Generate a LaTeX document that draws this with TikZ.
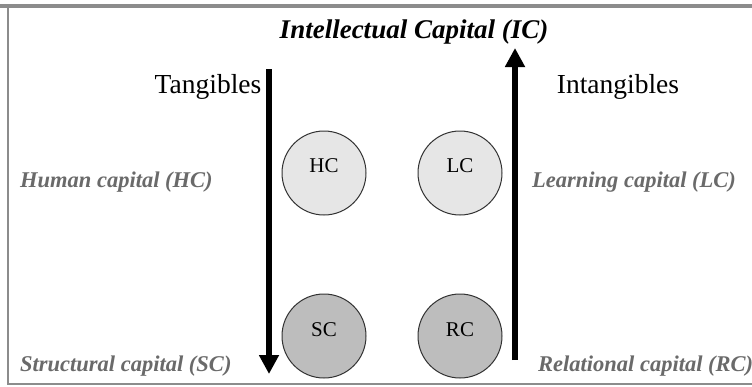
\documentclass[tikz,border=0pt]{standalone}
\usepackage{fontspec}
\setmainfont{Liberation Serif}
\usetikzlibrary{arrows.meta}
\definecolor{frame}{HTML}{8C8C8C}
\definecolor{lightfill}{HTML}{E6E6E6}
\definecolor{darkfill}{HTML}{BDBDBD}
\definecolor{sidegray}{HTML}{6A6A6A}
\begin{document}
\begin{tikzpicture}[x=1pt,y=-1pt,
  capcircle/.style={circle,draw=black!80,line width=1pt,minimum size=84pt,inner sep=0pt},
  light/.style={capcircle,fill=lightfill},
  dark/.style={capcircle,fill=darkfill},
  sidelabel/.style={font=\fontsize{22.5}{26}\selectfont\bfseries\itshape,text=sidegray,inner sep=0pt,anchor=base west},
  header/.style={font=\fontsize{27.5}{32}\selectfont,inner sep=0pt,anchor=base},
  circlabel/.style={font=\fontsize{21}{24}\selectfont,inner sep=0pt,anchor=base},
  bigarrow/.style={line width=5.5pt,-{Triangle[width=19pt,length=19pt]}}]
\useasboundingbox (0,0) rectangle (752,386);
\fill[white] (0,0) rectangle (752,386);
\draw[frame,line width=4pt] (0,6) -- (752,6);
\draw[frame,line width=1.5pt] (8,6) -- (8,384) -- (752,384);
\node[font=\fontsize{27}{30}\selectfont\bfseries\itshape,inner sep=0pt,anchor=base] (title) at (414,38) {Intellectual Capital (IC)};
\node[header] (tang) at (208,93) {Tangibles};
\node[header] (intang) at (618,93) {Intangibles};
\coordinate (dtop) at (269,69);
\coordinate (dbot) at (269,374);
\coordinate (ubot) at (515,360);
\coordinate (utop) at (515,48);
\draw[bigarrow] (dtop) -- (dbot);
\draw[bigarrow] (ubot) -- (utop);
\node[light] (hc) at (324,173) {};
\node[light] (lc) at (460,173) {};
\node[dark] (sc) at (324,336) {};
\node[dark] (rc) at (460,336) {};
\node[circlabel] (hct) at (324,172) {HC};
\node[circlabel] (lct) at (460,172) {LC};
\node[circlabel] (sct) at (324,336) {SC};
\node[circlabel] (rct) at (460,336) {RC};
\node[sidelabel] (hcl) at (20,187) {Human capital (HC)};
\node[sidelabel] (lcl) at (532,187) {Learning capital (LC)};
\node[sidelabel] (scl) at (20,371) {Structural capital (SC)};
\node[sidelabel] (rcl) at (538,371) {Relational capital (RC)};
\end{tikzpicture}
\end{document}
